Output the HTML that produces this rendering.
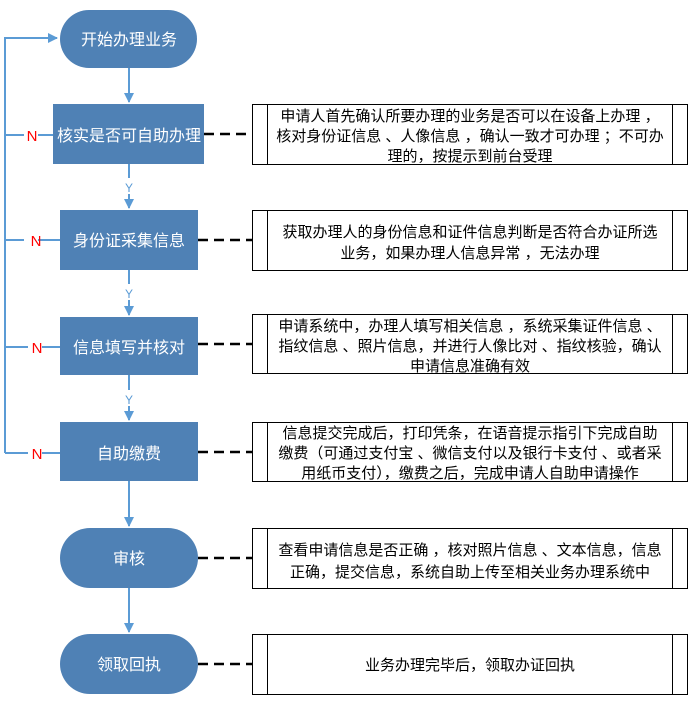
<!DOCTYPE html>
<html><head><meta charset="utf-8"><style>
body{margin:0;background:#fff;}
svg text{font-family:"Liberation Sans","Noto Sans CJK SC",sans-serif;}
</style></head><body>
<svg width="700" height="710" viewBox="0 0 700 710" xmlns="http://www.w3.org/2000/svg">
<defs><marker id="a" markerWidth="10" markerHeight="10" refX="9" refY="5" orient="auto" markerUnits="userSpaceOnUse"><path d="M0,0 L10,5 L0,10 z" fill="#5b9bd5"/></marker></defs>
<g stroke="#5b9bd5" stroke-width="2" fill="none">
<polyline points="60,135 5,135 5,38 57,38" marker-end="url(#a)"/>
<line x1="5" y1="135" x2="5" y2="453"/>
<line x1="5" y1="240" x2="60" y2="240"/><line x1="5" y1="347" x2="60" y2="347"/><line x1="5" y1="453" x2="60" y2="453"/>
<line x1="129" y1="68" x2="129" y2="102" marker-end="url(#a)"/>
<line x1="129" y1="164" x2="129" y2="208" marker-end="url(#a)"/>
<line x1="129" y1="270" x2="129" y2="315" marker-end="url(#a)"/>
<line x1="129" y1="375" x2="129" y2="420" marker-end="url(#a)"/>
<line x1="129" y1="481" x2="129" y2="526" marker-end="url(#a)"/>
<line x1="129" y1="588" x2="129" y2="632" marker-end="url(#a)"/>
</g>
<g fill="#fff"><rect x="24" y="125" width="14" height="20"/><rect x="24" y="230" width="14" height="20"/><rect x="28" y="337" width="14" height="20"/><rect x="28" y="443" width="14" height="20"/>
<rect x="122" y="178" width="14" height="16"/><rect x="122" y="284" width="14" height="16"/><rect x="122" y="390" width="14" height="16"/></g>
<g fill="#f00" font-size="15" text-anchor="middle"><text x="32" y="141">N</text><text x="36" y="246">N</text><text x="37" y="353">N</text><text x="37" y="459">N</text></g>
<g fill="#5b9bd5" font-size="12" text-anchor="middle"><text x="129" y="192">Y</text><text x="129" y="298">Y</text><text x="129" y="404">Y</text></g>
<g fill="#4f81b5">
<rect x="60" y="10" width="137" height="58" rx="29"/>
<rect x="53" y="104" width="151" height="60"/>
<rect x="60" y="210" width="138" height="60"/>
<rect x="60" y="317" width="138" height="58"/>
<rect x="60" y="422" width="138" height="59"/>
<rect x="60" y="528" width="138" height="60" rx="30"/>
<rect x="60" y="634" width="138" height="60" rx="30"/>
</g>
<g fill="#fff" font-size="16" text-anchor="middle">
<text x="129" y="45">开始办理业务</text><text x="129" y="141">核实是否可自助办理</text><text x="129" y="246">身份证采集信息</text>
<text x="129" y="353">信息填写并核对</text><text x="129" y="459">自助缴费</text><text x="129" y="564">审核</text><text x="129" y="670">领取回执</text>
</g>
<g stroke="#000" stroke-width="2.5" stroke-dasharray="10,6"><line x1="204" y1="134" x2="252" y2="134"/><line x1="198" y1="240" x2="252" y2="240"/>
<line x1="198" y1="344" x2="252" y2="344"/><line x1="198" y1="452" x2="252" y2="452"/><line x1="198" y1="558" x2="252" y2="558"/><line x1="198" y1="664" x2="252" y2="664"/></g>
<g stroke="#000" stroke-width="1" fill="#fff">
<rect x="252.5" y="104.5" width="435" height="60"/><rect x="252.5" y="210.5" width="435" height="60"/><rect x="252.5" y="314.5" width="435" height="59"/>
<rect x="252.5" y="422.5" width="435" height="59"/><rect x="252.5" y="528.5" width="435" height="60"/><rect x="252.5" y="634.5" width="435" height="60"/>
</g>
<g stroke="#000" stroke-width="1">
<line x1="267.5" y1="104" x2="267.5" y2="165"/><line x1="672.5" y1="104" x2="672.5" y2="165"/>
<line x1="267.5" y1="210" x2="267.5" y2="271"/><line x1="672.5" y1="210" x2="672.5" y2="271"/>
<line x1="267.5" y1="314" x2="267.5" y2="374"/><line x1="672.5" y1="314" x2="672.5" y2="374"/>
<line x1="267.5" y1="422" x2="267.5" y2="482"/><line x1="672.5" y1="422" x2="672.5" y2="482"/>
<line x1="267.5" y1="528" x2="267.5" y2="589"/><line x1="672.5" y1="528" x2="672.5" y2="589"/>
<line x1="267.5" y1="634" x2="267.5" y2="695"/><line x1="672.5" y1="634" x2="672.5" y2="695"/>
</g>
<g fill="#000" font-size="15" text-anchor="middle">
<text x="470" y="121">申请人首先确认所要办理的业务是否可以在设备上办理 ，</text>
<text x="470" y="141">核对身份证信息 、人像信息 ，确认一致才可办理 ；不可办</text>
<text x="470" y="161">理的，按提示到前台受理</text>
<text x="470" y="237">获取办理人的身份信息和证件信息判断是否符合办证所选</text>
<text x="470" y="258">业务，如果办理人信息异常 ，无法办理</text>
<text x="470" y="331">申请系统中，办理人填写相关信息 ，系统采集证件信息 、</text>
<text x="470" y="351">指纹信息 、照片信息，并进行人像比对 、指纹核验，确认</text>
<text x="470" y="371">申请信息准确有效</text>
<text x="470" y="438">信息提交完成后，打印凭条，在语音提示指引下完成自助</text>
<text x="470" y="458">缴费（可通过支付宝 、微信支付以及银行卡支付 、或者采</text>
<text x="470" y="478">用纸币支付），缴费之后，完成申请人自助申请操作</text>
<text x="470" y="555">查看申请信息是否正确 ，核对照片信息 、文本信息，信息</text>
<text x="470" y="577">正确，提交信息，系统自助上传至相关业务办理系统中</text>
<text x="470" y="670">业务办理完毕后，领取办证回执</text>
</g>
</svg>
</body></html>
